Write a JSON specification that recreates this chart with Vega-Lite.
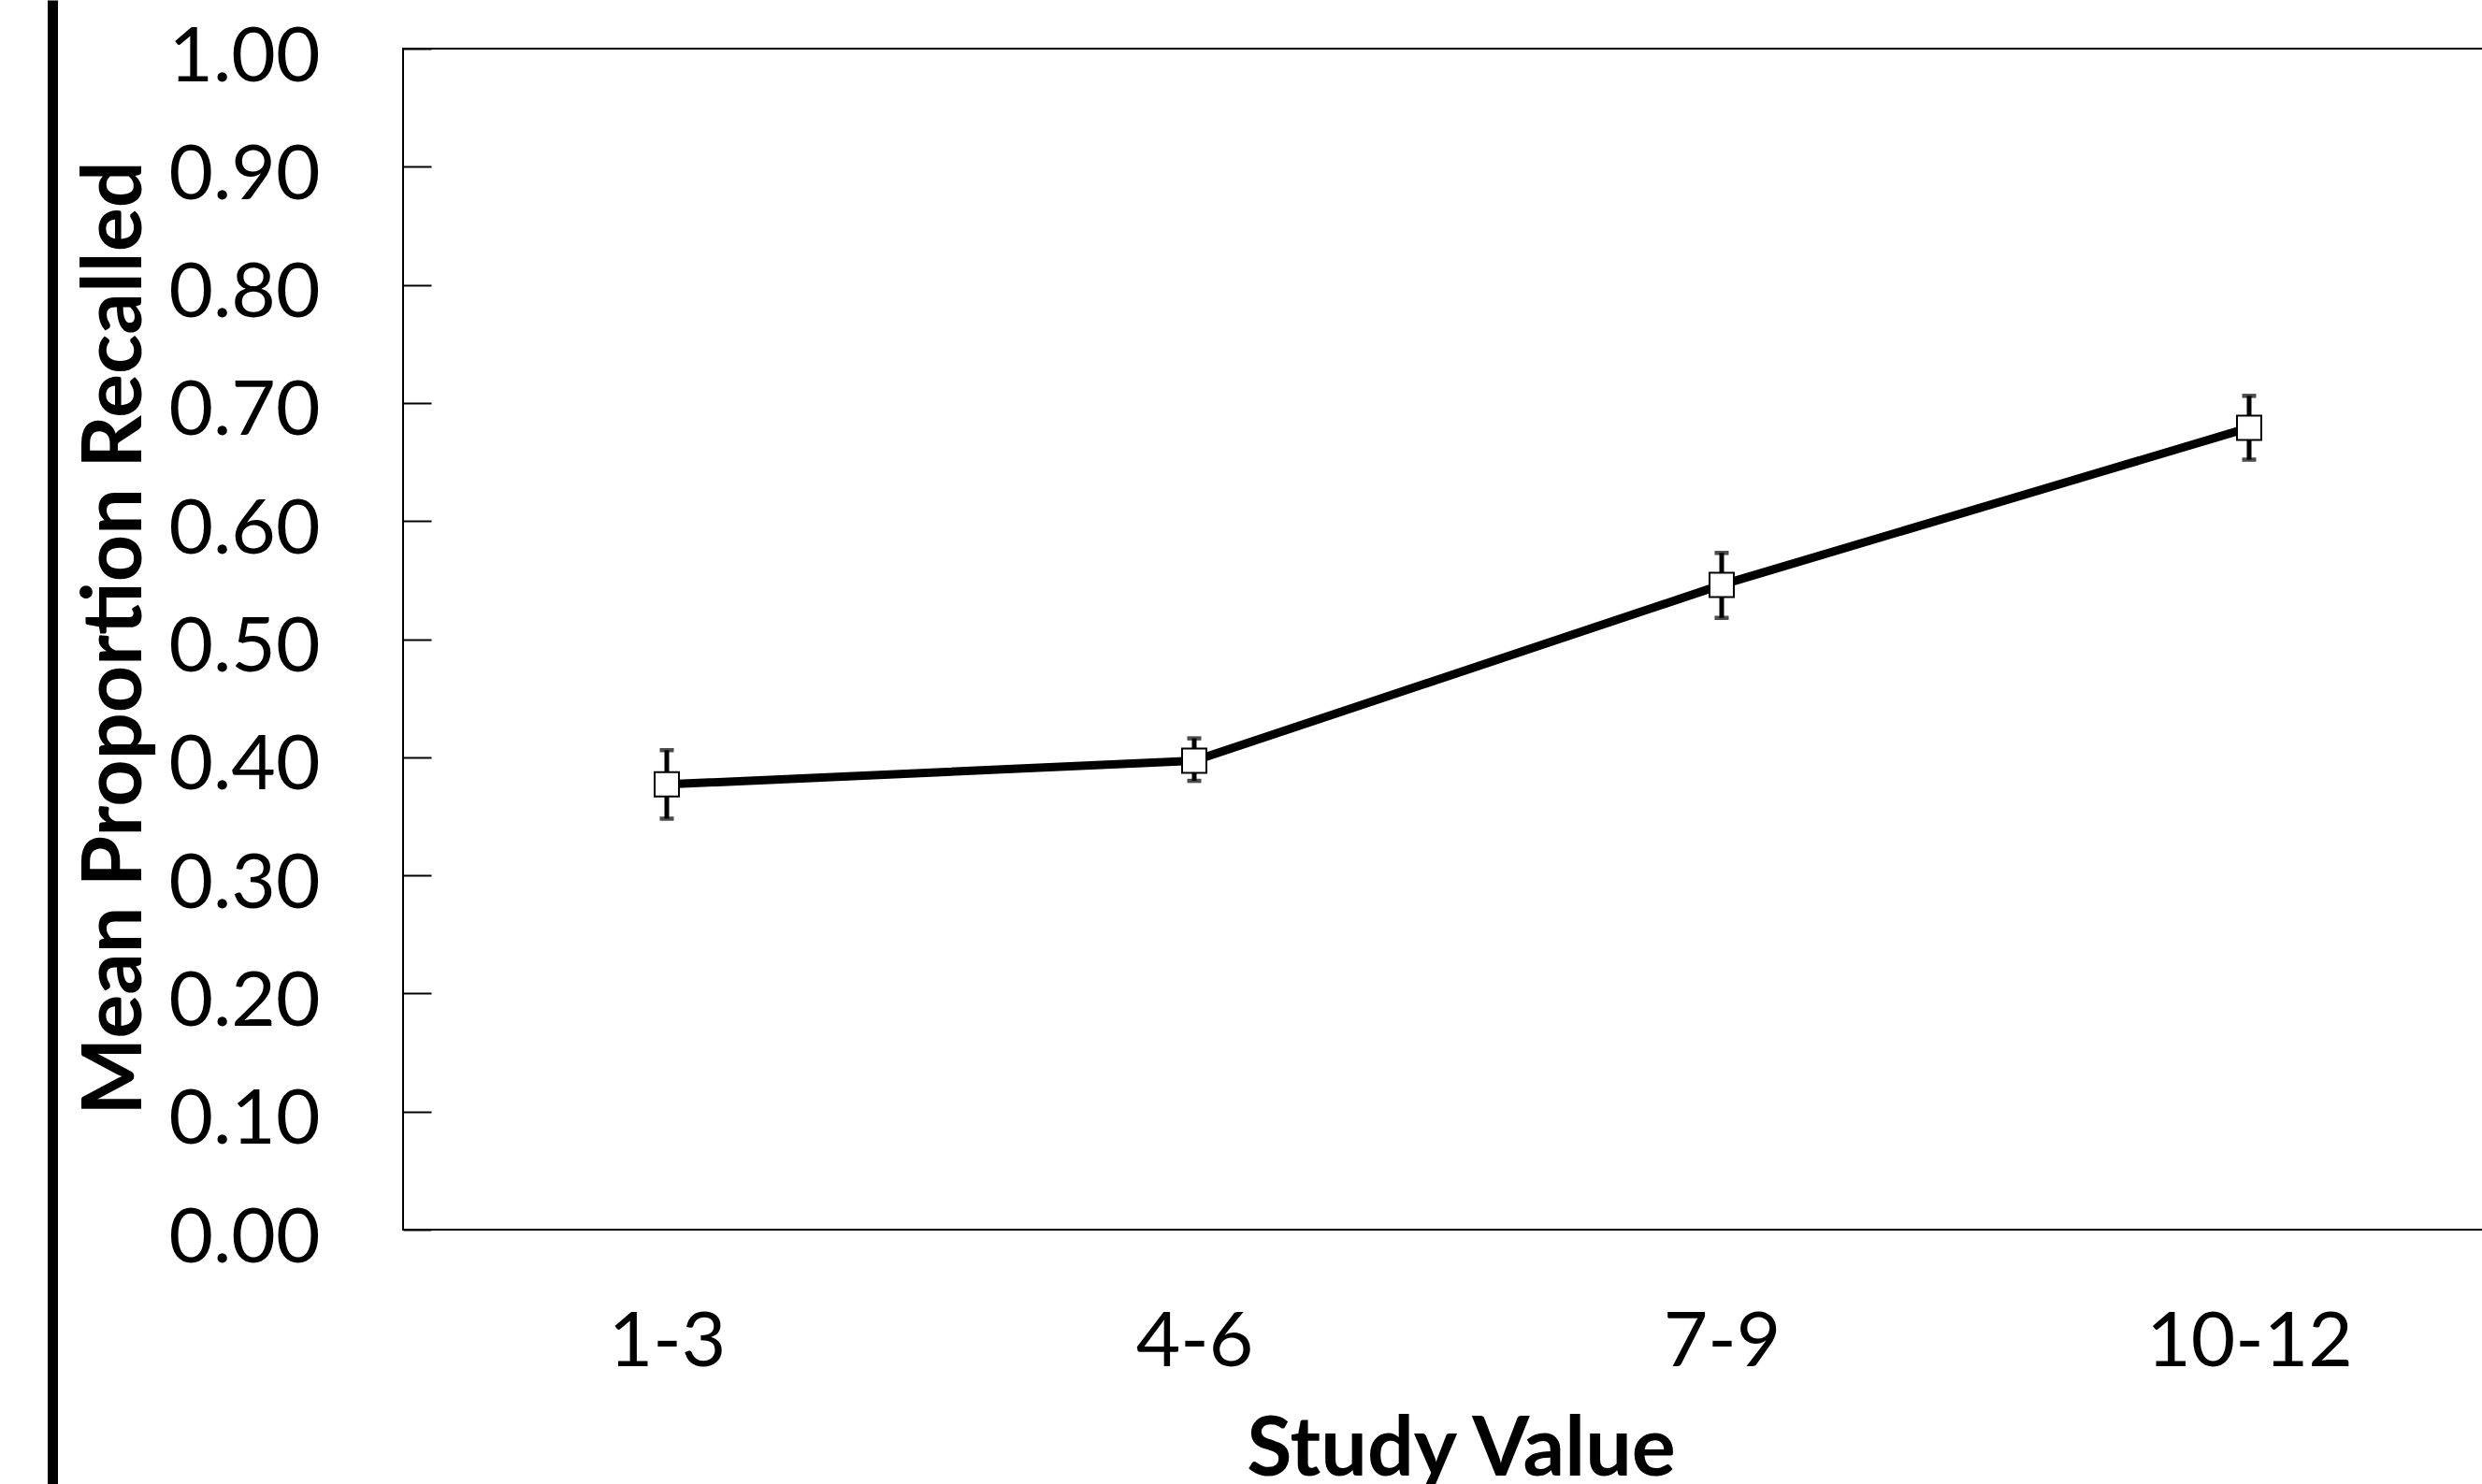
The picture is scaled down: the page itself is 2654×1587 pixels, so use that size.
{
  "$schema": "https://vega.github.io/schema/vega-lite/v6.json",
  "autosize": {"type": "none"},
  "padding": {"left": 431, "top": 52, "right": 0, "bottom": 272},
  "width": 2256,
  "height": 1263,
  "background": "white",
  "config": {
    "font": "Lato",
    "view": {"stroke": "black", "strokeWidth": 2}
  },
  "data": {
    "values": [
      {"study": "1-3", "mean": 0.377, "lo": 0.348, "hi": 0.406},
      {"study": "4-6", "mean": 0.397, "lo": 0.380, "hi": 0.416},
      {"study": "7-9", "mean": 0.546, "lo": 0.518, "hi": 0.573},
      {"study": "10-12", "mean": 0.679, "lo": 0.652, "hi": 0.706}
    ]
  },
  "layer": [
    {
      "encoding": {
        "x": {
          "field": "study",
          "type": "ordinal",
          "sort": ["1-3", "4-6", "7-9", "10-12"],
          "scale": {"type": "point", "padding": 0.5},
          "axis": {
            "title": "Study Value",
            "titleFont": "Lato",
            "titleFontWeight": "bold",
            "titleFontSize": 88,
            "titleColor": "black",
            "titleX": 1131,
            "titleY": 262,
            "titleAlign": "center",
            "titleBaseline": "alphabetic",
            "labelFont": "Lato",
            "labelFontSize": 82,
            "labelColor": "black",
            "labelAngle": 0,
            "labelPadding": 80,
            "labelLimit": 1000,
            "ticks": false,
            "domain": false,
            "grid": false
          }
        }
      },
      "layer": [
        {
          "mark": {"type": "rule", "color": "black", "strokeWidth": 5},
          "encoding": {
            "y": {
              "field": "lo",
              "type": "quantitative",
              "scale": {"domain": [0, 1], "nice": false, "zero": true},
              "axis": {
                "title": "Mean Proportion Recalled",
                "titleFont": "Lato",
                "titleFontWeight": "bold",
                "titleFontSize": 88,
                "titleColor": "black",
                "titleAngle": -90,
                "titleX": -281,
                "titleY": 630,
                "titleAlign": "center",
                "titleBaseline": "alphabetic",
                "values": [0, 0.1, 0.2, 0.3, 0.4, 0.5, 0.6, 0.7, 0.8, 0.9, 1.0],
                "format": ".2f",
                "labelFont": "Lato",
                "labelFontSize": 82,
                "labelColor": "black",
                "labelPadding": 119,
                "labelOffset": 9,
                "labelBaseline": "middle",
                "tickSize": -30,
                "tickWidth": 2,
                "tickColor": "black",
                "domain": false,
                "grid": false
              }
            },
            "y2": {"field": "hi"}
          }
        },
        {
          "mark": {"type": "tick", "color": "black", "thickness": 4.5, "size": 15, "orient": "horizontal"},
          "encoding": {"y": {"field": "lo", "type": "quantitative"}}
        },
        {
          "mark": {"type": "tick", "color": "black", "thickness": 4.5, "size": 15, "orient": "horizontal"},
          "encoding": {"y": {"field": "hi", "type": "quantitative"}}
        },
        {
          "mark": {"type": "line", "color": "black", "strokeWidth": 9},
          "encoding": {"y": {"field": "mean", "type": "quantitative"}}
        },
        {
          "mark": {"type": "point", "shape": "square", "size": 676, "filled": true, "fill": "white", "stroke": "black", "strokeWidth": 2, "opacity": 1},
          "encoding": {"y": {"field": "mean", "type": "quantitative"}}
        }
      ]
    },
    {
      "mark": {"type": "point", "opacity": 0},
      "encoding": {
        "x": {
          "field": "study",
          "type": "ordinal",
          "sort": ["1-3", "4-6", "7-9", "10-12"],
          "axis": {
            "orient": "top",
            "values": ["1-3"],
            "offset": 52,
            "tickOffset": -657,
            "tickSize": -1587,
            "tickWidth": 11,
            "tickColor": "black",
            "domain": false,
            "labels": false,
            "grid": false,
            "title": null
          }
        },
        "y": {"field": "mean", "type": "quantitative", "axis": null}
      }
    }
  ],
  "resolve": {"axis": {"x": "independent", "y": "independent"}}
}
